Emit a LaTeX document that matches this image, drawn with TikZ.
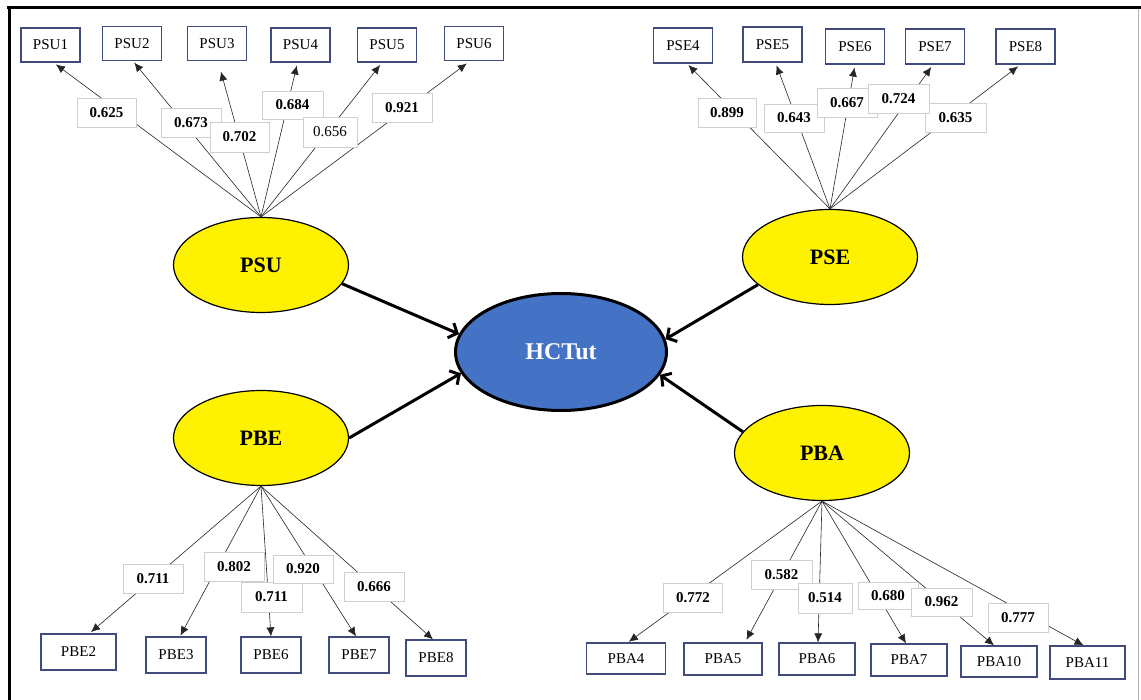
\documentclass[tikz,border=0pt]{standalone}
\usepackage{fontspec}
\setmainfont{Liberation Serif}
\usetikzlibrary{arrows.meta,shapes.geometric}
\definecolor{indborder}{HTML}{414B7E}
\definecolor{lblborder}{HTML}{CFCFCF}
\definecolor{hcblue}{HTML}{4472C4}
\begin{document}
\begin{tikzpicture}[x=1pt,y=-1pt,
  latent/.style={ellipse, draw=black, line width=1.2pt, fill=yellow,
    minimum width=175pt, minimum height=95pt, inner sep=0pt,
    font=\fontsize{22}{24}\selectfont\bfseries},
  hctnode/.style={ellipse, draw=black, line width=3pt, fill=hcblue, text=white,
    minimum width=211pt, minimum height=117pt, inner sep=0pt,
    font=\fontsize{24}{26}\selectfont\bfseries},
  indbox/.style={rectangle, draw=indborder, line width=1.2pt, fill=white,
    inner sep=0pt, minimum width=59pt, minimum height=34pt,
    font=\fontsize{15}{17}\selectfont},
  loadbox/.style={rectangle, draw=lblborder, line width=0.6pt, fill=white,
    inner sep=0pt, minimum width=59pt, minimum height=29pt,
    font=\fontsize{15}{17}\selectfont\bfseries},
  ind/.style={draw=black!85, line width=0.6pt, -{Latex[length=9pt,width=8pt]}},
  struct/.style={draw=black, line width=3pt, -{Straight Barb[length=7pt,width=16pt]}}]

\useasboundingbox (0,0) rectangle (1141,700);
\fill[white] (0,0) rectangle (1141,700);

% frame
\draw[line width=3pt] (7,8) -- (1141,8);
\draw[line width=3pt] (9,7) -- (9,700);
\draw[black!30, line width=0.8pt] (1138.5,9) -- (1138.5,700);

% constructs
\node[latent] (psu) at (261,265) {PSU};
\node[latent] (pse) at (830,257) {PSE};
\node[latent] (pbe) at (261,438) {PBE};
\node[latent] (pba) at (822,453) {PBA};
\node[hctnode] (hct) at (561,352) {HCTut};

% structural paths
\draw[struct] (psu.-13) -- (hct.170);
\draw[struct] (pbe.0) -- (hct.192.5);
\draw[struct] (pse.201) -- (hct.7);
\draw[struct] (pba.165) -- (hct.-13);

% PSU indicators
\node[indbox] (psu1) at (50.5,45) {PSU1};
\node[indbox] (psu2) at (132,43.5) {PSU2};
\node[indbox] (psu3) at (217,43.5) {PSU3};
\node[indbox] (psu4) at (300.5,45) {PSU4};
\node[indbox] (psu5) at (387,45) {PSU5};
\node[indbox] (psu6) at (474,43.5) {PSU6};
\draw[ind, shorten >=3pt] (psu.north) -- ([xshift=3pt]psu1.south);
\draw[ind, shorten >=2pt] (psu.north) -- ([xshift=1pt]psu2.south);
\draw[ind, shorten >=11pt] (psu.north) -- ([xshift=1pt]psu3.south);
\draw[ind, shorten >=3pt] (psu.north) -- ([xshift=-3pt]psu4.south);
\draw[ind, shorten >=3pt] (psu.north) -- ([xshift=-5pt]psu5.south);
\draw[ind, shorten >=4pt] (psu.north) -- ([xshift=-4pt]psu6.south);
\node[loadbox] (l625) at (106.5,113) {0.625};
\node[loadbox, minimum width=60pt] (l673) at (191,122.5) {0.673};
\node[loadbox, minimum height=30pt] (l702) at (239.5,137) {0.702};
\node[loadbox, minimum width=61pt, minimum height=28pt] (l684) at (292.5,105) {0.684};
\node[loadbox, minimum width=54pt, minimum height=30pt, font=\fontsize{15}{17}\selectfont] (l656) at (330,132) {0.656};
\node[loadbox, minimum width=60pt] (l921) at (402,107.5) {0.921};

% PSE indicators
\node[indbox, minimum height=35pt] (pse4) at (683,45.5) {PSE4};
\node[indbox, minimum height=35pt] (pse5) at (772.5,44.5) {PSE5};
\node[indbox, minimum height=35pt] (pse6) at (855,46.5) {PSE6};
\node[indbox, minimum height=35pt] (pse7) at (935,46.5) {PSE7};
\node[indbox, minimum height=35pt] (pse8) at (1025.5,46.5) {PSE8};
\draw[ind, shorten >=2pt] (pse.north) -- ([xshift=4pt]pse4.south);
\draw[ind, shorten >=3pt] (pse.north) -- ([xshift=3pt]pse5.south);
\draw[ind, shorten >=3pt] (pse.north) -- (pse6.south);
\draw[ind, shorten >=3pt] (pse.north) -- ([xshift=-2pt]pse7.south);
\draw[ind, shorten >=3pt] (pse.north) -- ([xshift=-5pt]pse8.south);
\node[loadbox, minimum width=58pt] (l899) at (727,112.5) {0.899};
\node[loadbox, minimum width=60pt, minimum height=28pt] (l643) at (794,118) {0.643};
\node[loadbox, minimum width=61pt] (l635) at (955.5,117.5) {0.635};
\node[loadbox, minimum width=60pt] (l667) at (847,102.5) {0.667};
\node[loadbox, minimum width=61pt] (l724) at (898.5,98.5) {0.724};

% PBE indicators
\node[indbox, minimum width=75pt, minimum height=36pt] (pbe2) at (78.5,652) {PBE2};
\node[indbox, minimum width=60pt, minimum height=36pt] (pbe3) at (176,655) {PBE3};
\node[indbox, minimum width=60pt, minimum height=36pt] (pbe6) at (271,655) {PBE6};
\node[indbox, minimum width=60pt, minimum height=36pt] (pbe7) at (359,655) {PBE7};
\node[indbox, minimum width=60pt, minimum height=36pt] (pbe8) at (436,658) {PBE8};
\draw[ind, shorten >=2pt] (pbe.south) -- ([xshift=11pt]pbe2.north);
\draw[ind, shorten >=1pt] (pbe.south) -- ([xshift=4pt]pbe3.north);
\draw[ind] (pbe.south) -- (pbe6.north);
\draw[ind] (pbe.south) -- ([xshift=-3pt]pbe7.north);
\draw[ind] (pbe.south) -- ([xshift=-3pt]pbe8.north);
\node[loadbox, minimum width=60pt] (l711a) at (153,578.5) {0.711};
\node[loadbox, minimum width=60pt] (l802) at (234,566.5) {0.802};
\node[loadbox, minimum width=61pt, minimum height=30pt] (l711b) at (271.5,597) {0.711};
\node[loadbox, minimum width=60pt, minimum height=28pt] (l920) at (303,569) {0.920};
\node[loadbox, minimum width=60pt] (l666) at (374,586.5) {0.666};

% PBA indicators
\node[indbox, minimum width=79pt, minimum height=31pt] (pba4) at (626,658.5) {PBA4};
\node[indbox, minimum width=78pt, minimum height=32pt] (pba5) at (723,659) {PBA5};
\node[indbox, minimum width=76pt, minimum height=32pt] (pba6) at (817,659) {PBA6};
\node[indbox, minimum width=76pt, minimum height=32pt] (pba7) at (909,660) {PBA7};
\node[indbox, minimum width=76pt, minimum height=31pt] (pba10) at (999,661.5) {PBA10};
\node[indbox, minimum width=75pt, minimum height=33pt] (pba11) at (1087.5,662.5) {PBA11};
\draw[ind, shorten >=1pt] (pba.south) -- ([xshift=2pt]pba4.north);
\draw[ind, shorten >=3pt] (pba.south) -- ([xshift=22pt]pba5.north);
\draw[ind] (pba.south) -- ([xshift=1pt]pba6.north);
\draw[ind] (pba.south) -- ([xshift=-3pt]pba7.north);
\draw[ind] (pba.south) -- ([xshift=-5pt]pba10.north);
\draw[ind] (pba.south) -- ([xshift=-4pt]pba11.north);
\node[loadbox] (l772) at (693,597.5) {0.772};
\node[loadbox, minimum width=61pt] (l582) at (781.5,574.5) {0.582};
\node[loadbox, minimum width=54pt, minimum height=30pt] (l514) at (825,598) {0.514};
\node[loadbox, minimum width=60pt, minimum height=27pt] (l680) at (888,595.5) {0.680};
\node[loadbox, minimum width=61pt, minimum height=28pt] (l962) at (941.5,602) {0.962};
\node[loadbox, minimum width=60pt] (l777) at (1018,617.5) {0.777};

\end{tikzpicture}
\end{document}
